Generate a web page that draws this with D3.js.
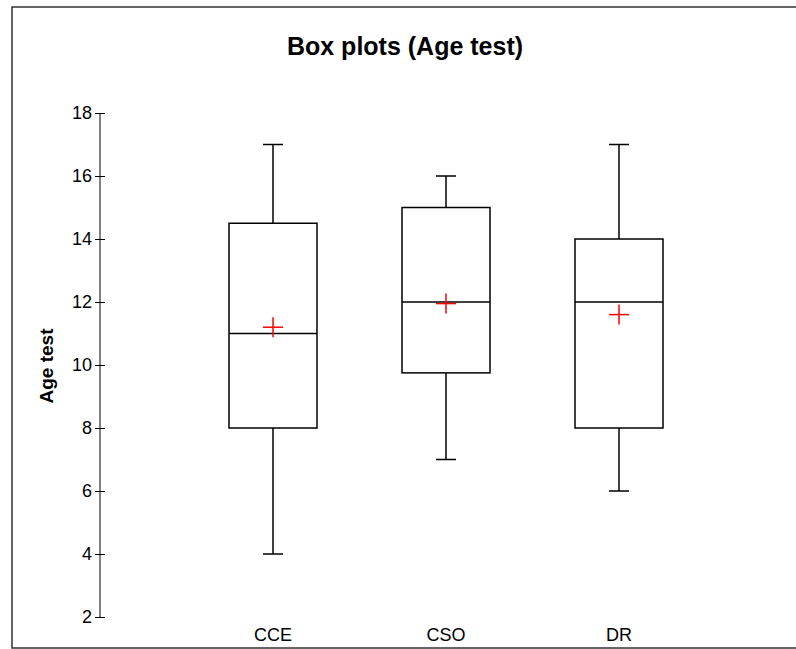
<!DOCTYPE html>
<html>
<head>
<meta charset="utf-8">
<script src="https://cdn.jsdelivr.net/npm/d3@7/dist/d3.min.js"></script>
<style>
  body { margin: 0; background: #fff; overflow: hidden; }
  svg { display: block; font-family: "Liberation Sans", Arial, sans-serif; }
</style>
</head>
<body>
<div id="chart"></div>
<script>
// data
var categories = ["CCE", "CSO", "DR"];
var minValues = [4, 7, 6];
var q1Values = [8, 9.75, 8];
var medianValues = [11, 12, 12];
var q3Values = [14.5, 15, 14];
var maxValues = [17, 16, 17];
var meanValues = [11.2, 11.95, 11.6];
var yTicks = [2, 4, 6, 8, 10, 12, 14, 16, 18];

var boxes = categories.map(function(c, i) {
  return {name: c, min: minValues[i], q1: q1Values[i], med: medianValues[i],
          q3: q3Values[i], max: maxValues[i], mean: meanValues[i]};
});

var W = 796, H = 649;
var svg = d3.select("#chart").append("svg").attr("width", W).attr("height", H);

// outer frame (right edge falls outside the picture)
svg.append("rect")
  .attr("x", 12).attr("y", 7)
  .attr("width", 800).attr("height", 641)
  .attr("fill", "none").attr("stroke", "#333").attr("stroke-width", 1.5);

var x = d3.scalePoint().domain(categories).range([100, 792]).padding(1);
var y = d3.scaleLinear().domain([2, 18]).range([617, 113]);

svg.append("text")
  .attr("x", 405).attr("y", 55)
  .attr("text-anchor", "middle")
  .attr("font-size", 25).attr("font-weight", "bold")
  .text("Box plots (Age test)");

// y axis
var y_axis = d3.axisLeft(y).tickValues(yTicks).tickSize(0).tickPadding(8);
var gy = svg.append("g").attr("transform", "translate(100,0)").call(y_axis);
gy.select(".domain").remove();
gy.append("line").attr("x1", 0).attr("x2", 0)
  .attr("y1", y(2)).attr("y2", y(18)).attr("stroke", "#000");
gy.selectAll(".tick").append("line")
  .attr("x1", -5).attr("x2", 5).attr("stroke", "#000");
gy.selectAll(".tick text").attr("font-size", 18).attr("fill", "#000")
  .attr("font-family", "Liberation Sans, Arial, sans-serif");

svg.append("text")
  .attr("transform", "translate(53,366) rotate(-90)")
  .attr("text-anchor", "middle")
  .attr("font-size", 19).attr("font-weight", "bold")
  .text("Age test");

// category labels
svg.selectAll(".cat").data(categories).enter().append("text")
  .attr("x", function(d) { return x(d); })
  .attr("y", 641)
  .attr("text-anchor", "middle")
  .attr("font-size", 18)
  .text(function(d) { return d; });

var bw = 88, cap = 20;
var g = svg.selectAll(".box").data(boxes).enter().append("g")
  .attr("transform", function(d) { return "translate(" + x(d.name) + ",0)"; });

g.append("line").attr("x1", 0).attr("x2", 0)
  .attr("y1", function(d) { return y(d.max); })
  .attr("y2", function(d) { return y(d.q3); })
  .attr("stroke", "#000").attr("stroke-width", 1.5);
g.append("line").attr("x1", 0).attr("x2", 0)
  .attr("y1", function(d) { return y(d.q1); })
  .attr("y2", function(d) { return y(d.min); })
  .attr("stroke", "#000").attr("stroke-width", 1.5);
g.append("line").attr("x1", -cap / 2).attr("x2", cap / 2)
  .attr("y1", function(d) { return y(d.max); })
  .attr("y2", function(d) { return y(d.max); })
  .attr("stroke", "#000").attr("stroke-width", 1.5);
g.append("line").attr("x1", -cap / 2).attr("x2", cap / 2)
  .attr("y1", function(d) { return y(d.min); })
  .attr("y2", function(d) { return y(d.min); })
  .attr("stroke", "#000").attr("stroke-width", 1.5);
g.append("rect")
  .attr("x", -bw / 2).attr("width", bw)
  .attr("y", function(d) { return y(d.q3); })
  .attr("height", function(d) { return y(d.q1) - y(d.q3); })
  .attr("fill", "none").attr("stroke", "#000").attr("stroke-width", 1.5);
g.append("line").attr("x1", -bw / 2).attr("x2", bw / 2)
  .attr("y1", function(d) { return y(d.med); })
  .attr("y2", function(d) { return y(d.med); })
  .attr("stroke", "#000").attr("stroke-width", 1.5);

// mean markers
g.append("line").attr("x1", -10).attr("x2", 10)
  .attr("y1", function(d) { return y(d.mean); })
  .attr("y2", function(d) { return y(d.mean); })
  .attr("stroke", "#ff0000").attr("stroke-width", 1.5);
g.append("line").attr("x1", 0).attr("x2", 0)
  .attr("y1", function(d) { return y(d.mean) - 10; })
  .attr("y2", function(d) { return y(d.mean) + 10; })
  .attr("stroke", "#ff0000").attr("stroke-width", 1.5);
</script>
</body>
</html>
